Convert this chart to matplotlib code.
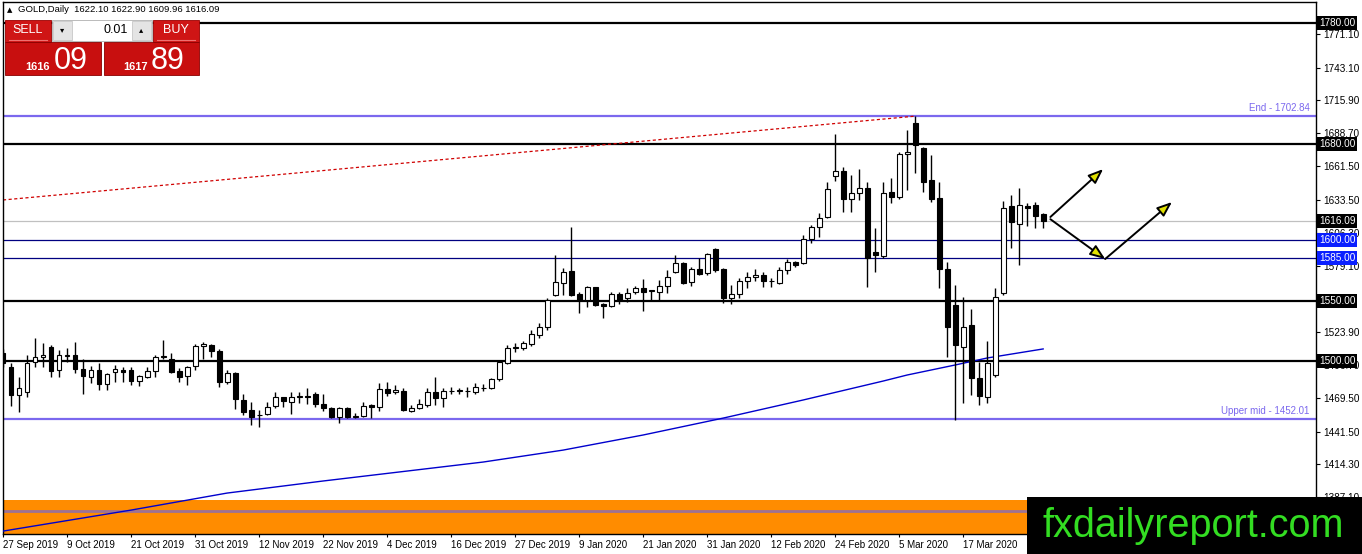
import numpy as np
import matplotlib.pyplot as plt
from matplotlib.patches import Rectangle
from matplotlib.transforms import blended_transform_factory

# daily candles, GOLD (index = trading day)
opens = [1507, 1495, 1472, 1474, 1499, 1503, 1512, 1492.5, 1504, 1505,
         1493, 1487, 1492.5, 1481, 1491, 1492.5, 1492.5, 1483.4, 1487, 1491.5,
         1503, 1502, 1492, 1487.5, 1496, 1512.5, 1513, 1508, 1483, 1490,
         1467.7, 1459.4, 1455.5, 1456, 1462.7, 1470, 1466, 1470, 1471, 1473,
         1464.3, 1461, 1453.6, 1461, 1454, 1454.4, 1463.5, 1462, 1477, 1474,
         1475, 1458.5, 1461, 1463.5, 1474, 1469, 1475, 1475.5, 1475.5, 1474.3,
         1477.6, 1477.6, 1485, 1498, 1511, 1510.7, 1514, 1521.5, 1528, 1554.6,
         1564.6, 1574.5, 1555.4, 1550.5, 1561, 1547, 1545.5, 1555.4, 1552, 1557,
         1560.5, 1558, 1557, 1562, 1573.7, 1581, 1565.4, 1576, 1573, 1592.8,
         1576, 1552, 1555.4, 1566, 1569.6, 1571, 1566.5, 1564.6, 1575.4, 1582,
         1581, 1601, 1611, 1619.3, 1653, 1657.4, 1634, 1639, 1643, 1590,
         1587, 1640, 1636, 1671.5, 1697, 1676.4, 1650, 1635, 1576, 1546.4,
         1511.6, 1529.8, 1486, 1470, 1488.4, 1556, 1628.4, 1613.5, 1628.4, 1629.2,
         1622.1]
highs = [1510, 1498, 1487, 1505, 1519, 1515, 1513, 1509, 1511, 1516,
         1502, 1496, 1498, 1490, 1497, 1495, 1495, 1488, 1495, 1505,
         1517, 1507, 1494, 1495.5, 1514, 1516, 1514, 1510, 1492.5, 1491,
         1472.6, 1466, 1459.4, 1466, 1474, 1470.5, 1474, 1474, 1477.6, 1474,
         1473, 1461.5, 1462, 1462, 1457, 1466, 1464, 1481.7, 1482.6, 1480,
         1478, 1463.5, 1468.5, 1478, 1486.7, 1477.6, 1478.5, 1478, 1478.5, 1481.7,
         1481, 1486, 1501, 1513, 1515, 1516.5, 1525.6, 1531.5, 1552, 1587.8,
         1577, 1611, 1557, 1562, 1561.5, 1548, 1557, 1557, 1560.5, 1562,
         1568, 1559, 1567, 1575, 1587.8, 1582, 1578, 1585, 1589.5, 1593.6,
         1577, 1563, 1568.7, 1573.7, 1576, 1573.7, 1568.7, 1577.9, 1584.5, 1583,
         1604.4, 1612.6, 1622.6, 1648.3, 1688, 1660.7, 1654, 1659, 1648.3, 1610,
         1648.3, 1651.6, 1673.1, 1691.3, 1702.84, 1677, 1670.6, 1648.3, 1582, 1563,
         1553, 1543, 1499, 1516.5, 1560.5, 1632.5, 1637.5, 1643, 1631, 1631.7,
         1622.9]
lows = [1495, 1463, 1458, 1470, 1495, 1495, 1487, 1487, 1499, 1490,
        1473, 1482, 1476, 1476, 1483, 1483, 1480, 1479, 1486, 1487,
        1502, 1490, 1483, 1480, 1492.5, 1502, 1503, 1478.5, 1481, 1460,
        1455, 1447, 1445.3, 1455, 1461, 1462, 1456, 1465, 1464, 1462,
        1459, 1452.7, 1448.6, 1453, 1452.7, 1453.6, 1452.7, 1458.5, 1471, 1472.6,
        1458.5, 1457.7, 1460, 1462, 1463.5, 1462, 1472.6, 1473, 1470, 1472.6,
        1475, 1476.8, 1483.4, 1497.5, 1507.5, 1509, 1512.5, 1519, 1525.6, 1553.8,
        1554.6, 1553.8, 1539.7, 1544.7, 1545.5, 1535.6, 1544.7, 1547, 1548.8, 1555.4,
        1541.4, 1550.5, 1550.5, 1556, 1573, 1564, 1562, 1571, 1571, 1573.7,
        1548, 1547.2, 1552, 1560.5, 1566, 1561, 1561, 1563.8, 1572, 1578,
        1580, 1597.7, 1602.7, 1618.5, 1649, 1623.4, 1623.4, 1633, 1561.3, 1573.7,
        1585.3, 1631, 1634, 1641.6, 1655.7, 1640, 1631.7, 1560.5, 1503.3, 1451,
        1465.2, 1471.8, 1463.5, 1465.2, 1486.7, 1555, 1594, 1579.5, 1612, 1610,
        1609.96]
closes = [1498, 1472, 1478, 1498, 1503, 1505, 1492, 1505, 1505, 1493,
          1487.5, 1492.5, 1481, 1489, 1493, 1491, 1483.4, 1487.5, 1492, 1503,
          1504, 1491, 1487, 1495, 1512.5, 1514, 1508, 1483, 1490, 1468.5,
          1457.7, 1453.6, 1455, 1462, 1470, 1467, 1470, 1471, 1470, 1464,
          1461, 1453.6, 1461, 1453.6, 1454.5, 1462.7, 1462, 1476.8, 1473.5, 1476,
          1459.4, 1461, 1464.3, 1474, 1469, 1475, 1475.5, 1476, 1475, 1478.5,
          1478, 1485, 1499, 1510.7, 1512, 1515, 1522, 1528, 1550.5, 1565.4,
          1573.7, 1554.6, 1550.5, 1561, 1546.4, 1545.5, 1555.4, 1550.5, 1556, 1560.5,
          1557, 1558.5, 1562, 1570, 1581, 1564.6, 1576, 1572, 1588.6, 1575.4,
          1552, 1555.4, 1566, 1569.6, 1571, 1566, 1566, 1575.4, 1582, 1579.5,
          1601, 1611, 1618.5, 1642.5, 1657.4, 1634, 1639, 1643, 1585.3, 1587.8,
          1639, 1636, 1671.5, 1673, 1679, 1648.3, 1634, 1576.2, 1528.1, 1513.2,
          1528, 1485.9, 1471, 1498.3, 1553, 1626.7, 1615, 1629.2, 1626.7, 1620,
          1616.09]

# moving average, read at a few candles
ma_idx = [0, 16, 28, 40, 60, 70, 80, 90, 100, 110, 113, 119, 123, 130]
ma_val = [1359.1, 1376.5, 1390.6, 1400.6, 1416.3, 1426.2, 1438.7, 1452.7,
          1467.7, 1483.4, 1488.4, 1496.7, 1502.5, 1510.0]

date_idx = list(range(0, 121, 8))
date_lbl = ["27 Sep 2019", "9 Oct 2019", "21 Oct 2019", "31 Oct 2019", "12 Nov 2019",
            "22 Nov 2019", "4 Dec 2019", "16 Dec 2019", "27 Dec 2019", "9 Jan 2020",
            "21 Jan 2020", "31 Jan 2020", "12 Feb 2020", "24 Feb 2020", "5 Mar 2020",
            "17 Mar 2020"]

price_ticks = [1771.10, 1743.10, 1715.90, 1688.70, 1661.50, 1633.50, 1606.30, 1579.10,
               1523.90, 1496.70, 1469.50, 1441.50, 1414.30, 1387.10]

black_levels = [1780.0, 1680.0, 1550.0, 1500.0]
blue_levels = [1600.0, 1585.0]
last_price = 1616.09
end_level = 1702.84
upper_mid = 1452.01
band_top = 1384.8
band_line = 1375.7
trend_x = [0, 114]
trend_y = [1633.4, 1702.84]
arrows = [((130.9, 1619.3), (137.5, 1659.0)),
          ((130.9, 1617.5), (137.75, 1584.5)),
          ((137.75, 1584.5), (146.1, 1631.7))]

W, H = 1362, 554
fig = plt.figure(figsize=(W / 100, H / 100), dpi=100)
fig.patch.set_facecolor("white")
ax = fig.add_axes([3 / W, 20 / H, (1316 - 3) / W, (534 - 2) / H])
ax.set_xlim(0, 164.1)
ax.set_ylim(1356.7, 1797.4)

FONT = "Liberation Sans"

# orange band at the bottom
ax.axhspan(1300, band_top, color="#ff8c00", zorder=0, lw=0)
ax.axhline(band_line, color="#9c7296", lw=2, zorder=1)

# levels
for lv in black_levels:
    ax.axhline(lv, color="black", lw=1.6, zorder=2)
for lv in blue_levels:
    ax.axhline(lv, color="#000080", lw=0.9, zorder=2)
ax.axhline(last_price, color="#c0c0c0", lw=0.9, zorder=1)
ax.axhline(end_level, color="#7b68ee", lw=1.6, zorder=2)
ax.axhline(upper_mid, color="#7b68ee", lw=1.6, zorder=2)
ax.text(163.3, end_level + 2.5, "End - 1702.84", color="#7b68ee", ha="right", va="bottom",
        fontsize=7, family=FONT)
ax.text(163.3, upper_mid + 2.5, "Upper mid - 1452.01", color="#7b68ee", ha="right", va="bottom",
        fontsize=7, family=FONT)

ax.plot(trend_x, trend_y, color="#d00000", lw=0.9, ls=(0, (2.5, 2)), zorder=2)
ax.plot(ma_idx, ma_val, color="#0000cd", lw=1.0, zorder=3)

# candles
x = np.arange(len(opens))
o = np.array(opens); h = np.array(highs); l = np.array(lows); c = np.array(closes)
ax.vlines(x, l, h, color="black", lw=1, zorder=4)
up = c >= o
body_lo = np.minimum(o, c)
body_h = np.maximum(np.abs(c - o), 0.3)
ax.bar(x[up], body_h[up], bottom=body_lo[up], width=0.62, facecolor="white",
       edgecolor="black", lw=0.8, zorder=5)
ax.bar(x[~up], body_h[~up], bottom=body_lo[~up], width=0.62, facecolor="black",
       edgecolor="black", lw=0.8, zorder=5)

# arrows
for (x0, y0), (x1, y1) in arrows:
    ax.annotate("", xy=(x1, y1), xytext=(x0, y0),
                arrowprops=dict(arrowstyle="-|>,head_length=0.9,head_width=0.35",
                                fc="#e0e000", ec="black", lw=1.4, shrinkA=0, shrinkB=0),
                zorder=6)

# axes styling
for s in ax.spines.values():
    s.set_color("black")
    s.set_linewidth(1)
ax.yaxis.tick_right()
ax.set_yticks(price_ticks)
ax.set_yticklabels([f"{t:.2f}" for t in price_ticks])
ax.tick_params(axis="y", direction="out", length=3, pad=2.5, labelsize=7.2, colors="black")
ax.set_xticks(date_idx)
ax.set_xticklabels(date_lbl, ha="left")
ax.tick_params(axis="x", direction="out", length=2, pad=2, labelsize=7)
for t in ax.get_xticklabels() + ax.get_yticklabels():
    t.set_family(FONT)

tr = blended_transform_factory(ax.transAxes, ax.transData)
for lv in black_levels + [last_price]:
    ax.text(1.0022, lv, f"{lv:.2f}", transform=tr, color="white", fontsize=7.2, family=FONT,
            va="center", ha="left", zorder=10, clip_on=False,
            bbox=dict(facecolor="black", edgecolor="none", boxstyle="square,pad=0.2"))
for lv in blue_levels:
    ax.text(1.0022, lv, f"{lv:.2f}", transform=tr, color="white", fontsize=7.2, family=FONT,
            va="center", ha="left", zorder=10, clip_on=False,
            bbox=dict(facecolor="#0a1fff", edgecolor="none", boxstyle="square,pad=0.2"))

# overlay in pixel coordinates for header, trade panel and watermark
ov = fig.add_axes([0, 0, 1, 1], zorder=5)
ov.set_xlim(0, W)
ov.set_ylim(H, 0)
ov.axis("off")
ov.patch.set_alpha(0)

ov.text(7, 10, "▲", fontsize=5, va="center", ha="left", color="black")
ov.text(18, 10, "GOLD,Daily  1622.10 1622.90 1609.96 1616.09", fontsize=6.8, family=FONT,
        va="center", ha="left", color="black")

red = "#cf1515"
ov.add_patch(Rectangle((5, 20), 46, 22, fc=red, ec="#9a0000", lw=0.6))
ov.add_patch(Rectangle((153, 20), 46, 22, fc=red, ec="#9a0000", lw=0.6))
ov.plot([9, 47], [40, 40], color="#f07070", lw=0.8)
ov.plot([157, 195], [40, 40], color="#f07070", lw=0.8)
ov.text(28, 30, "SELL", color="white", fontsize=9, family=FONT, ha="center", va="center")
ov.text(176, 30, "BUY", color="white", fontsize=9, family=FONT, ha="center", va="center")
ov.add_patch(Rectangle((52, 20), 100, 21, fc="white", ec="#b0b0b0", lw=0.6))
ov.add_patch(Rectangle((53, 21), 19, 19, fc="#e4e4e4", ec="#c0c0c0", lw=0.5))
ov.add_patch(Rectangle((132, 21), 19, 19, fc="#e4e4e4", ec="#c0c0c0", lw=0.5))
ov.text(62.5, 30, "▾", fontsize=6, ha="center", va="center", color="black")
ov.text(141.5, 30, "▴", fontsize=6, ha="center", va="center", color="black")
ov.text(128, 30, "0.01", fontsize=9, family=FONT, ha="right", va="center", color="black")

ov.add_patch(Rectangle((5, 42), 96, 33, fc="#c80f0f", ec="#8a0000", lw=0.6))
ov.add_patch(Rectangle((104, 42), 95, 33, fc="#c80f0f", ec="#8a0000", lw=0.6))
ov.text(50, 70, "1616", color="white", fontsize=8, weight="bold", family=FONT,
        ha="right", va="baseline")
ov.text(54, 69, "09", color="white", fontsize=22, family=FONT, ha="left", va="baseline")
ov.text(148, 70, "1617", color="white", fontsize=8, weight="bold", family=FONT,
        ha="right", va="baseline")
ov.text(151, 69, "89", color="white", fontsize=22, family=FONT, ha="left", va="baseline")

ov.add_patch(Rectangle((1027, 497), W - 1027, H - 497, fc="black", ec="none"))
ov.text(1193, 537, "fxdailyreport.com", color="#33dd22", fontsize=28.5, family=FONT,
        ha="center", va="baseline")

fig.savefig("out.png", dpi=100, facecolor="white")
